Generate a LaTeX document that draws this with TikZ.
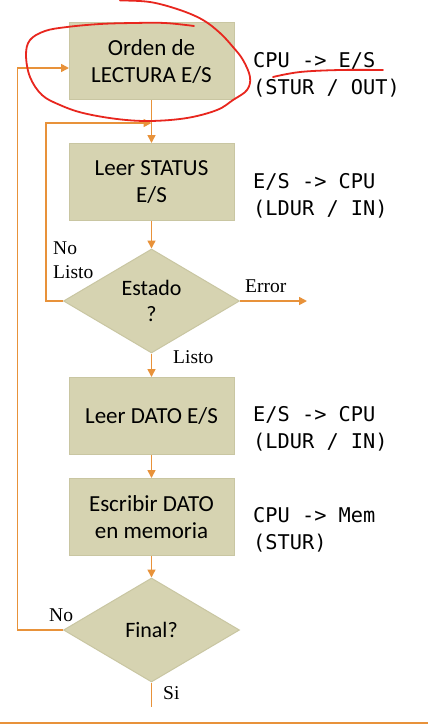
\documentclass[tikz,border=0pt]{standalone}
\usepackage{fontspec}
\setmainfont{Carlito}
\newfontfamily\serifl{Liberation Serif}
\newfontfamily\monof{DejaVu Sans Mono}
\usetikzlibrary{shapes.geometric,arrows.meta}
\definecolor{boxfill}{HTML}{D6D3B1}
\definecolor{boxline}{HTML}{C9C6A2}
\definecolor{arr}{HTML}{E8923A}
\definecolor{pen}{HTML}{E8261E}
\tikzset{
  procbox/.style={draw=boxline, fill=boxfill, line width=1pt, minimum width=165pt, minimum height=77pt, align=center, inner sep=0pt, font=\fontsize{23}{27}\selectfont},
  decbox/.style={draw=boxline, fill=boxfill, line width=1pt, diamond, aspect=1.69, minimum width=176pt, minimum height=104pt, align=center, inner sep=0pt, font=\fontsize{22}{26}\selectfont},
  flow/.style={draw=arr, line width=1.6pt},
  flowarr/.style={flow, -{Triangle[length=8pt,width=8pt]}},
  codetxt/.style={anchor=west, align=left, inner sep=0pt, font=\monof\fontsize{20.3}{27}\selectfont},
  lbl/.style={anchor=base west, inner sep=0pt, font=\serifl\fontsize{19.5}{23}\selectfont},
  redpen/.style={draw=pen, line width=1.8pt, line cap=round, line join=round}
}
\begin{document}
\begin{tikzpicture}[x=1pt,y=-1pt]
\useasboundingbox (0,0) rectangle (428,724);
\fill[white] (0,0) rectangle (428,724);

\node[procbox] (b1) at (151.5,61) {Orden de\\LECTURA E/S};
\node[procbox] (b2) at (151.5,182) {Leer STATUS\\E/S};
\node[decbox] (d1) at (151.5,301) {Estado\\?};
\node[procbox] (b3) at (151.5,416) {Leer DATO E/S};
\node[procbox] (b4) at (151.5,517) {Escribir DATO\\en memoria};
\node[decbox] (d2) at (151.5,630) {Final?};

\node[codetxt] (c1) at (253,75) {CPU -> E/S\\(STUR / OUT)};
\node[codetxt] (c2) at (253,195.5) {E/S -> CPU\\(LDUR / IN)};
\node[codetxt] (c3) at (253,429) {E/S -> CPU\\(LDUR / IN)};
\node[codetxt] (c4) at (253,530) {CPU -> Mem\\(STUR)};

\coordinate (j1) at (151.5,123);
\coordinate (l1) at (45.7,301);
\coordinate (l1t) at (45.7,123);
\coordinate (l2) at (17.5,630);
\coordinate (l2t) at (17.5,68);
\coordinate (b1in) at (69,68);
\coordinate (err) at (307,301);
\coordinate (fin) at (151.5,707);

\draw[flowarr] (b1.south) -- (b2.north);
\draw[flowarr] (d1.west) -- (l1) -- (l1t) -- (j1);
\draw[flowarr] (d2.west) -- (l2) -- (l2t) -- (b1in);
\draw[flowarr] (b2.south) -- (d1.north);
\draw[flowarr] (d1.east) -- (err);
\draw[flowarr] (d1.south) -- (b3.north);
\draw[flowarr] (b3.south) -- (b4.north);
\draw[flowarr] (b4.south) -- (d2.north);
\draw[flow] (d2.south) -- (fin);

\node[anchor=north west, align=left, inner sep=0pt, font=\serifl\fontsize{19.5}{23.5}\selectfont] (nl) at (53,242) {No\\Listo};
\node[lbl] (ls) at (173,363) {Listo};
\node[lbl] (er) at (245,292) {Error};
\node[lbl] (no) at (49,621) {No};
\node[lbl] (si) at (163,699) {Si};

\draw[arr, line width=2pt] (0,723) -- (428,723);

\draw[redpen] plot[smooth, tension=0.6] coordinates {(120,0.5) (150,2) (180,10) (203,20) (220,33) (233,47) (243,60) (250,77) (247,90) (233,100) (217,110) (187,118) (150,121) (117,119) (83,113) (60,105) (42,95) (30,77) (26,55) (30,40) (45,31) (67,27) (100,24) (133,23) (165,23) (194,26)};
\draw[redpen] plot[smooth, tension=0.6] coordinates {(273,77) (300,72) (340,70) (383,70)};
\end{tikzpicture}
\end{document}
